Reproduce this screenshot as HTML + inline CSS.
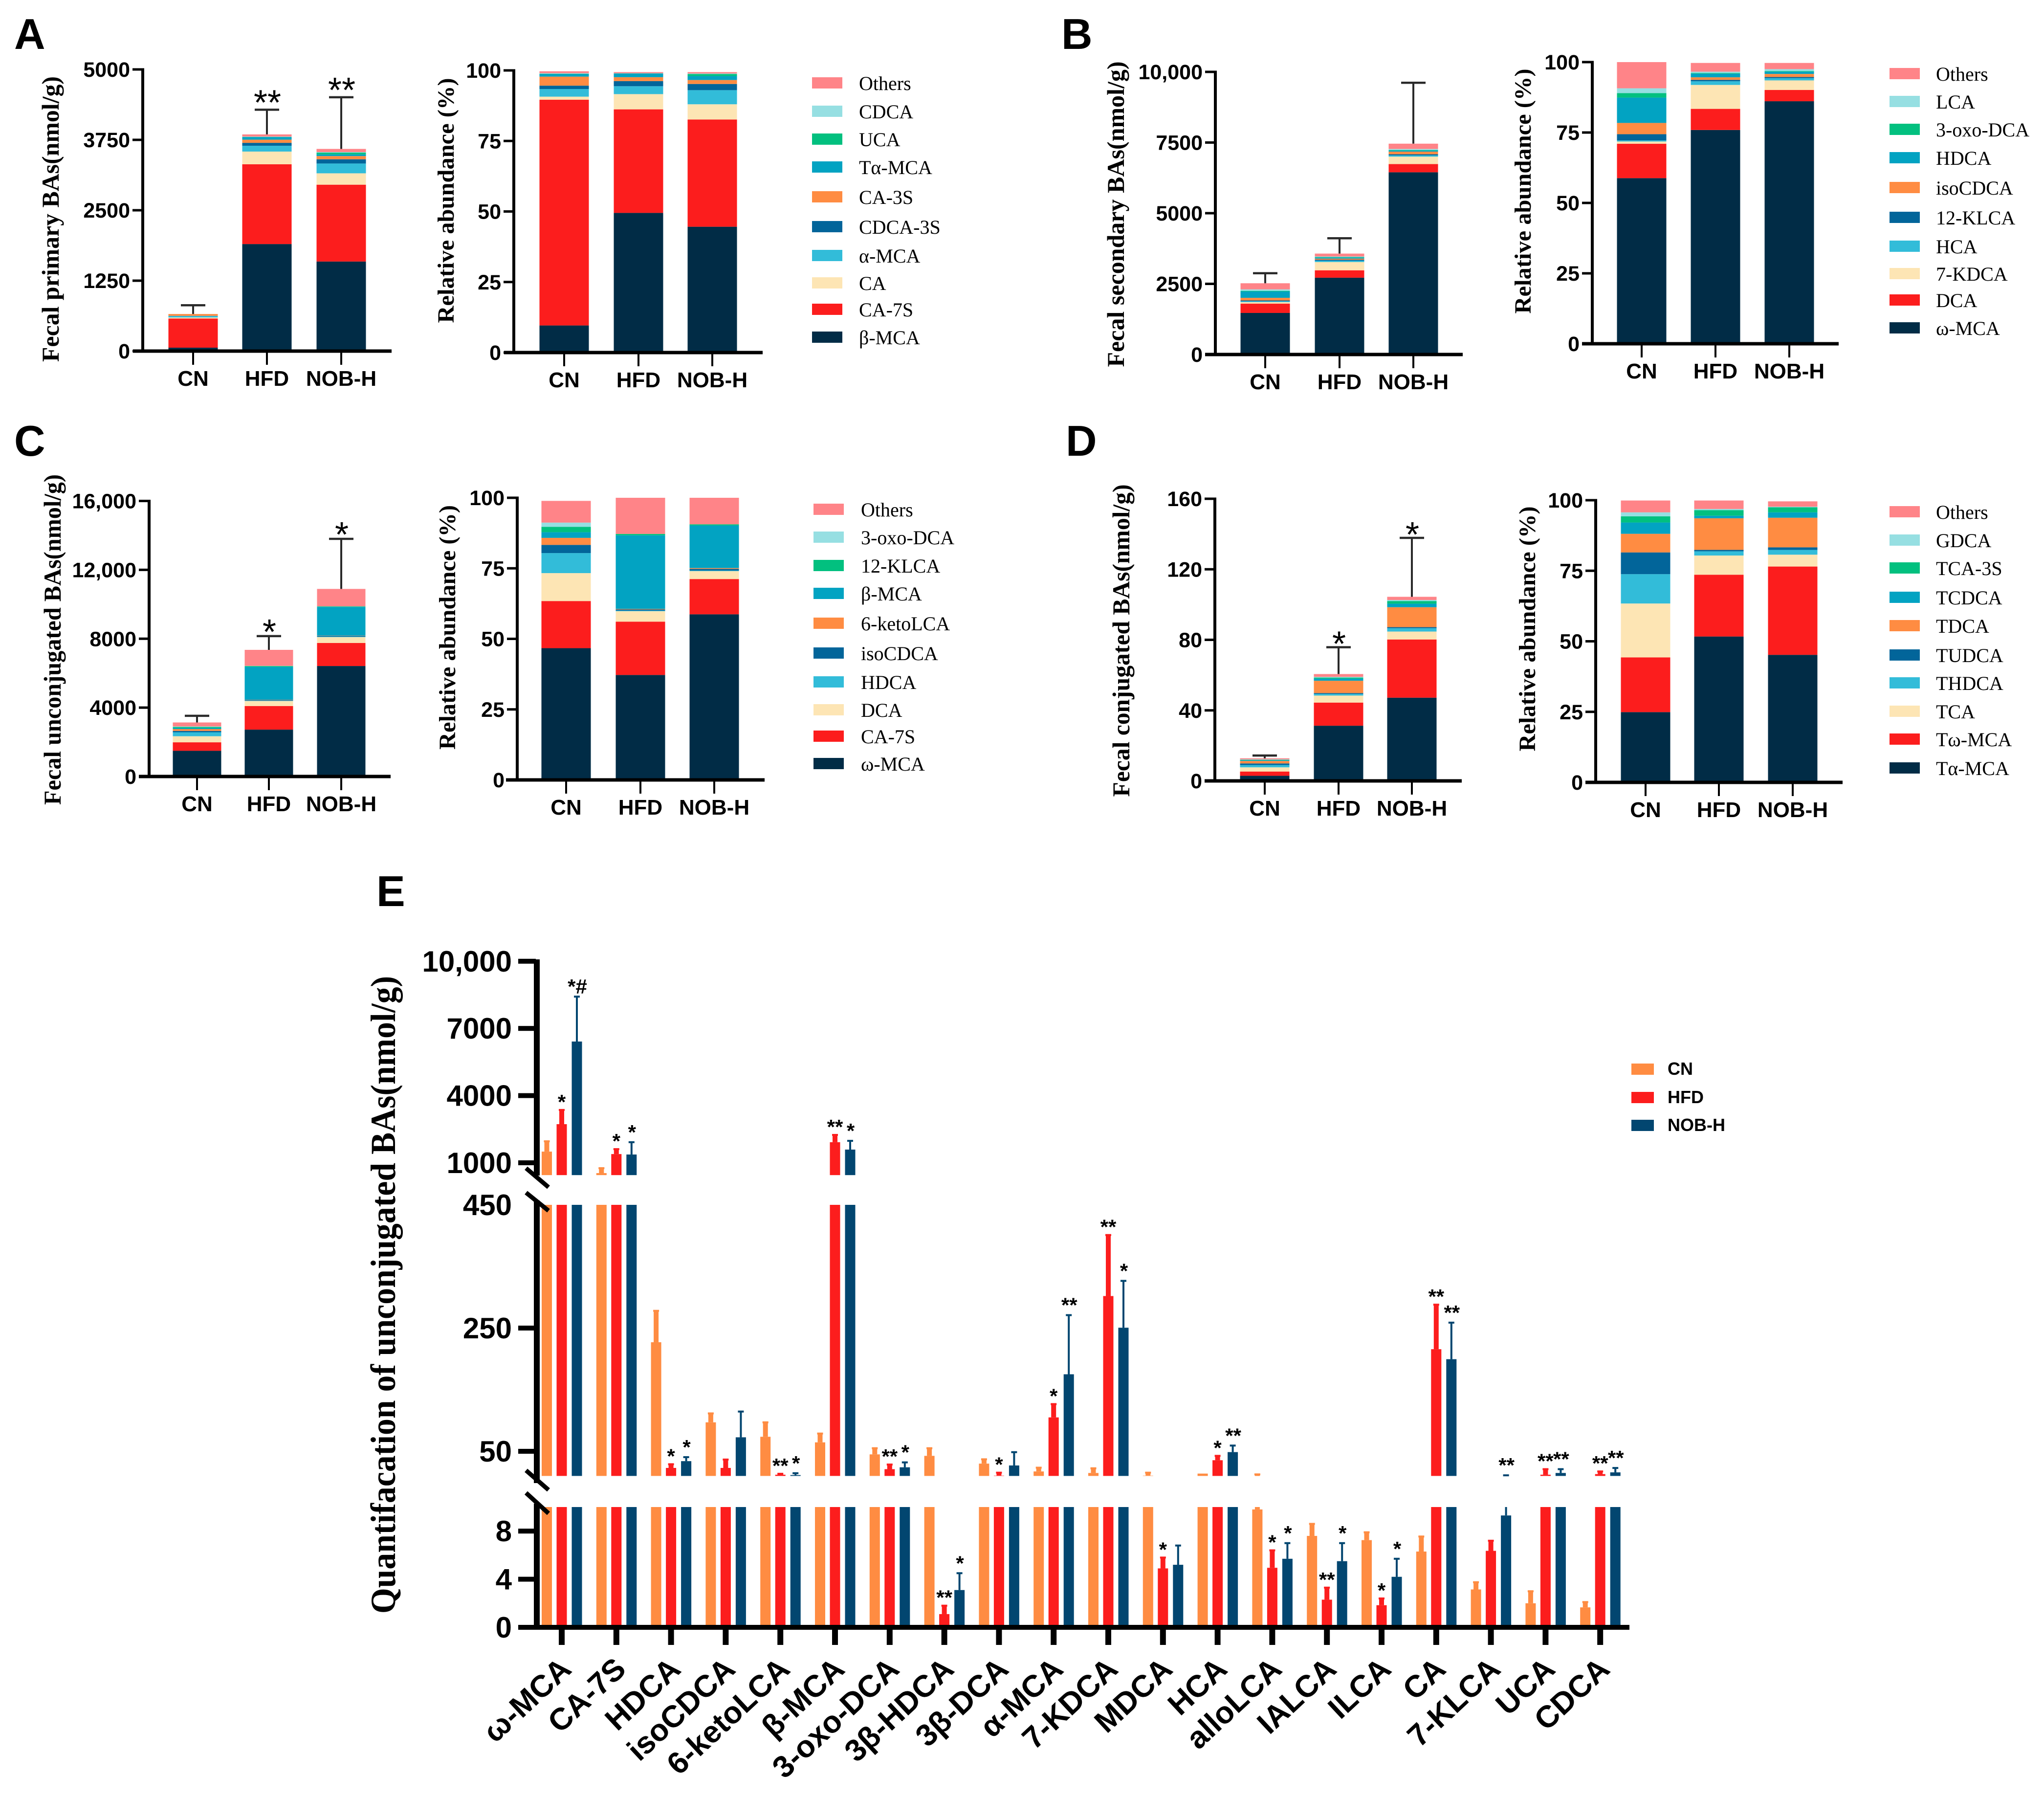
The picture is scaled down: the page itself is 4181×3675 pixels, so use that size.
<!DOCTYPE html>
<html lang="en">
<head>
<meta charset="utf-8">
<title>Fecal bile acids chart</title>
<style>
html,body{margin:0;padding:0;background:#fff;}
svg{display:block;}
.sans{font-family:"Liberation Sans",sans-serif;}
.serif{font-family:"Liberation Serif",serif;}
</style>
</head>
<body>
<svg id="figure" xmlns="http://www.w3.org/2000/svg" width="4181" height="3675" viewBox="0 0 4181 3675">
<rect x="0" y="0" width="4181" height="3675" fill="#ffffff"/>
<text class="sans" font-weight="700" font-size="88" x="29" y="100">A</text>
<text class="sans" font-weight="700" font-size="88" x="2171" y="100">B</text>
<text class="sans" font-weight="700" font-size="88" x="29" y="932">C</text>
<text class="sans" font-weight="700" font-size="88" x="2180" y="932">D</text>
<text class="sans" font-weight="700" font-size="88" x="770" y="1853">E</text>
</svg>
<script>
// ---- shared categories ----
var groupNames = ['CN', 'HFD', 'NOB-H'];
var pctTicks = [0, 25, 50, 75, 100];
var pctTickLabels = ['0', '25', '50', '75', '100'];

// ---- panel A ----
var aLegend = ['β-MCA', 'CA-7S', 'CA', 'α-MCA', 'CDCA-3S', 'CA-3S', 'Tα-MCA', 'UCA', 'CDCA', 'Others'];
var aTicks = [0, 1250, 2500, 3750, 5000];
var aTickLabels = ['0', '1250', '2500', '3750', '5000'];
var aAbsCN = [61, 517, 19, 26, 3, 32, 0, 0, 0, 0];
var aAbsHFD = [1900, 1416, 226, 103, 52, 56, 47, 3, 5, 39];
var aAbsNOB = [1590, 1364, 202, 174, 75, 57, 30, 31, 10, 56];
var aAbsErr = [156, 438, 917];
var aAbsStars = ['', '**', '**'];
var aPctCN = [9.6, 80, 1.1, 2.7, 1.2, 3.2, 0.9, 0.1, 0.2, 0.7];
var aPctHFD = [49.5, 36.7, 5.4, 2.8, 1.8, 1.4, 1.3, 0.05, 0.05, 0.4];
var aPctNOB = [44.6, 38, 5.4, 5, 2.2, 1.4, 1.4, 0.7, 0.2, 0.5];

// ---- panel B ----
var bLegend = ['ω-MCA', 'DCA', '7-KDCA', 'HCA', '12-KLCA', 'isoCDCA', 'HDCA', '3-oxo-DCA', 'LCA', 'Others'];
var bTicks = [0, 2500, 5000, 7500, 10000];
var bTickLabels = ['0', '2500', '5000', '7500', '10,000'];
var bAbsCN = [1471, 328, 56, 29, 28, 94, 225, 19, 55, 216];
var bAbsHFD = [2718, 262, 291, 47, 37, 38, 37, 19, 19, 103];
var bAbsNOB = [6448, 290, 263, 47, 37, 94, 37, 19, 38, 187];
var bAbsErr = [356, 543, 2156];
var bAbsStars = ['', '', ''];
var bPctCN = [58.8, 12.2, 0.8, 0.4, 2.2, 4, 9, 1.6, 1.7, 9.3];
var bPctHFD = [75.9, 7.5, 8.5, 1.3, 0.5, 0.9, 1.3, 0.2, 0.5, 3.1];
var bPctNOB = [86.1, 4, 3.4, 0.8, 0.4, 1.1, 0.8, 0.2, 0.7, 2.2];

// ---- panel C ----
var cLegend = ['ω-MCA', 'CA-7S', 'DCA', 'HDCA', 'isoCDCA', '6-ketoLCA', 'β-MCA', '12-KLCA', '3-oxo-DCA', 'Others'];
var cTicks = [0, 4000, 8000, 12000, 16000];
var cTickLabels = ['0', '4000', '8000', '12,000', '16,000'];
var cAbsCN = [1492, 493, 353, 231, 77, 108, 60, 63, 31, 230];
var cAbsHFD = [2723, 1369, 293, 20, 41, 15, 1908, 46, 10, 929];
var cAbsNOB = [6415, 1339, 338, 30, 47, 15, 1662, 31, 5, 1010];
var cAbsErr = [385, 800, 2908];
var cAbsStars = ['', '*', '*'];
var cPctCN = [46.7, 16.7, 9.9, 7.1, 2.9, 2.5, 2, 1.9, 1.5, 7.7];
var cPctHFD = [37.2, 18.9, 3.7, 0.2, 0.4, 0.2, 26.1, 0.5, 0, 12.8];
var cPctNOB = [58.7, 12.5, 2.8, 0.2, 0.6, 0.3, 15.1, 0.4, 0, 9.4];

// ---- panel D ----
var dLegend = ['Tα-MCA', 'Tω-MCA', 'TCA', 'THDCA', 'TUDCA', 'TDCA', 'TCDCA', 'TCA-3S', 'GDCA', 'Others'];
var dTicks = [0, 40, 80, 120, 160];
var dTickLabels = ['0', '40', '80', '120', '160'];
var dAbsCN = [2.9, 2.4, 2.4, 1.3, 0.9, 1.4, 0.4, 0.3, 0.2, 0.6];
var dAbsHFD = [31.3, 13.1, 4, 0.9, 0.5, 7, 1.2, 0.6, 0.4, 1.6];
var dAbsNOB = [47.2, 33, 4.5, 1.9, 0.6, 11.3, 2, 1.5, 0.6, 1.8];
var dAbsErr = [1.6, 15.2, 33.4];
var dAbsStars = ['', '*', '*'];
var dPctCN = [24.9, 19.4, 19.1, 10.4, 7.7, 6.6, 4, 2.2, 1.4, 4.2];
var dPctHFD = [51.7, 21.9, 6.8, 1.5, 0.5, 11.2, 0.9, 2, 0.4, 3];
var dPctNOB = [45.2, 31.3, 4.2, 1.7, 0.9, 10.5, 1.9, 1.8, 0.2, 1.9];

// ---- panel E ----
var eCategories = ['ω-MCA', 'CA-7S', 'HDCA', 'isoCDCA', '6-ketoLCA', 'β-MCA', '3-oxo-DCA', '3β-HDCA', '3β-DCA', 'α-MCA', '7-KDCA', 'MDCA', 'HCA', 'alloLCA', 'IALCA', 'ILCA', 'CA', '7-KLCA', 'UCA', 'CDCA'];
var eCN = [1500, 540, 227, 97, 73.6, 64.5, 45, 42.6, 30, 17.3, 14.8, 10.5, 13.8, 9.8, 7.6, 7.25, 6.3, 3.15, 2, 1.66];
var eCNTop = [1960, 760, 278, 111.5, 97, 78.8, 55, 55, 37, 23.4, 22.4, 15.3, 13.8, 12.5, 8.6, 7.9, 7.55, 3.75, 3, 2.1];
var eHFD = [2725, 1390, 23, 23, 12, 1920, 21, 1.1, 10.5, 105, 302, 4.9, 35.5, 4.95, 2.3, 1.84, 215.7, 6.36, 12, 13];
var eHFDTop = [3360, 1610, 29, 36.6, 13.5, 2245, 28.5, 1.8, 15.3, 126.6, 401, 5.8, 42.6, 6.4, 3.3, 2.4, 288, 7.2, 21, 17.3];
var eNOB = [6415, 1370, 34, 72.7, 11.4, 1590, 24, 3.1, 27, 175, 250.6, 5.2, 48.7, 5.7, 5.5, 4.2, 199.5, 9.3, 14.8, 15.8];
var eNOBTop = [8420, 1920, 40.5, 114.5, 14.4, 1980, 32, 4.5, 48.6, 271, 326.6, 6.8, 59.3, 7, 7, 5.7, 258.8, 11, 21, 22.9];
var eHFDStars = ['*', '*', '*', '', '**', '**', '**', '**', '*', '*', '**', '*', '*', '*', '**', '*', '**', '', '**', '**'];
var eNOBStars = ['*#', '*', '*', '', '*', '*', '*', '*', '', '**', '*', '', '**', '*', '*', '*', '**', '**', '**', '**'];
var eLowTicks = [0, 4, 8];
var eMidTicks = [50, 250];
var eMidLabelOnly = [450];
var eTopTicks = [1000, 4000, 7000, 10000];
var eTopTickLabels = ['1000', '4000', '7000', '10,000'];

var stackColors = ['#012c46', '#fc1d1d', '#fde5b4', '#32bcd9', '#02659a', '#ff8c42', '#02a3c2', '#02c07f', '#96dfe2', '#ff8488'];
var eColors = ['#ff8c42', '#fc1d1d', '#024670'];

var NS = 'http://www.w3.org/2000/svg';
var root = document.getElementById('figure');

function make(tag, attrs, parent) {
  var el = document.createElementNS(NS, tag);
  for (var k in attrs) { el.setAttribute(k, attrs[k]); }
  (parent || root).appendChild(el);
  return el;
}
function slug(s) {
  return String(s).toLowerCase().replace(/α/g, 'alpha').replace(/β/g, 'beta').replace(/ω/g, 'omega').replace(/[^a-z0-9]+/g, '-');
}
function label(parent, name, str, x, y, size, family, weight, anchor, extra) {
  var attrs = { x: x, y: y, 'font-size': size, 'font-weight': weight, 'text-anchor': anchor, 'class': family, fill: '#000' };
  for (var k in (extra || {})) { attrs[k] = extra[k]; }
  var t = make('text', attrs, parent);
  t.textContent = str;
  
  
  return t;
}
function box(parent, name, x, y, w, h, fill) {
  var r = make('rect', { x: x, y: y, width: w, height: Math.max(h, 0), fill: fill }, parent);
  
  
  return r;
}

function stackedChart(o) {
  var g = make('g', {});
  
  
  var yScale = function (v) { return o.y0 - v / o.max * (o.y0 - o.yTop); };

  o.series.forEach(function (vals, gi) {
    var cx = o.centers[gi];
    var sum = 0;
    vals.forEach(function (v, si) {
      var top = yScale(sum + v);
      var bottom = yScale(sum);
      box(g, 'bar-' + slug(groupNames[gi]) + '-' + slug(o.legendNames[si]), cx - o.barW / 2, top, o.barW, bottom - top, stackColors[si]);
      sum += v;
    });
    if (o.errors) {
      var errTop = yScale(sum + o.errors[gi]);
      var line = make('line', { x1: cx, x2: cx, y1: yScale(sum), y2: errTop, stroke: '#2a2a2a', 'stroke-width': 4 }, g);
      
      
      var cap = make('line', { x1: cx - 25, x2: cx + 25, y1: errTop, y2: errTop, stroke: '#2a2a2a', 'stroke-width': 4.5 }, g);
      
      
      if (o.stars && o.stars[gi]) {
        label(g, 'significance-' + slug(groupNames[gi]), o.stars[gi], cx + 1, errTop - o.starGap + 41, 72, 'sans', 400, 'middle');
      }
    }
  });

  box(g, 'y-axis', o.axisX - 3, o.yTop - 2.5, 6, o.y0 - o.yTop + 5, '#000');
  box(g, 'x-axis', o.xStart, o.y0 - 3.5, o.xEnd - o.xStart, 7, '#000');
  o.ticks.forEach(function (tv, ti) {
    var ty = yScale(tv);
    box(g, 'y-tick-' + tv, o.axisX - 21, ty - 2.5, 21, 5, '#000');
    label(g, 'y-tick-label-' + tv, o.tickLabels[ti], o.axisX - 26, ty + 15, 43, 'sans', 700, 'end');
  });
  groupNames.forEach(function (name, gi) {
    box(g, 'x-tick-' + slug(name), o.centers[gi] - 2, o.y0, 4, 28, '#000');
    label(g, 'x-tick-label-' + slug(name), name, o.centers[gi], o.y0 + 71, 44, 'sans', 700, 'middle');
  });
  var tb = label(g, o.name + '-y-axis-title', o.title, 0, 0, o.titleSize, 'serif', 700, 'middle',
    { transform: 'translate(' + o.titleX + ',' + o.titleY + ') rotate(-90)', textLength: o.titleLen, lengthAdjust: 'spacingAndGlyphs' });
  return tb;
}

function legend(name, names, swatchX, textX, rows) {
  var g = make('g', {});
  
  
  names.forEach(function (n, i) {
    var idx = i;
    var y = rows[names.length - 1 - i];
    box(g, 'legend-swatch-' + slug(n), swatchX, y - 12, 62, 23, stackColors[idx]);
    label(g, 'legend-entry-' + slug(n), n, textX, y + 14, 40, 'serif', 400, 'start');
  });
}

// Panel A
stackedChart({ name: 'panel-a-absolute', series: [aAbsCN, aAbsHFD, aAbsNOB], errors: aAbsErr, stars: aAbsStars, starGap: 31, legendNames: aLegend,
  max: 5000, y0: 718, yTop: 142, axisX: 292, xStart: 272, xEnd: 801, centers: [395, 546, 698], barW: 101, ticks: aTicks, tickLabels: aTickLabels,
  title: 'Fecal primary BAs(nmol/g)', titleSize: 50, titleX: 120, titleY: 448, titleLen: 584 });
stackedChart({ name: 'panel-a-relative', series: [aPctCN, aPctHFD, aPctNOB], legendNames: aLegend,
  max: 100, y0: 721, yTop: 144, axisX: 1051, xStart: 1031, xEnd: 1560, centers: [1154, 1306, 1457], barW: 101, ticks: pctTicks, tickLabels: pctTickLabels,
  title: 'Relative abundance (%)', titleSize: 48, titleX: 928, titleY: 410, titleLen: 501 });
legend('panel-a-legend', aLegend, 1661, 1757, [170, 228, 285, 342, 403, 464, 523, 579, 633, 690]);

// Panel B
stackedChart({ name: 'panel-b-absolute', series: [bAbsCN, bAbsHFD, bAbsNOB], errors: bAbsErr, stars: bAbsStars, starGap: 30, legendNames: bLegend,
  max: 10000, y0: 725, yTop: 147, axisX: 2486, xStart: 2465, xEnd: 2992, centers: [2588, 2740, 2891], barW: 101, ticks: bTicks, tickLabels: bTickLabels,
  title: 'Fecal secondary BAs(nmol/g)', titleSize: 50, titleX: 2299, titleY: 438, titleLen: 625 });
stackedChart({ name: 'panel-b-relative', series: [bPctCN, bPctHFD, bPctNOB], legendNames: bLegend,
  max: 100, y0: 703, yTop: 127, axisX: 3257, xStart: 3236, xEnd: 3761, centers: [3358, 3509, 3660], barW: 101, ticks: pctTicks, tickLabels: pctTickLabels,
  title: 'Relative abundance (%)', titleSize: 48, titleX: 3131, titleY: 391, titleLen: 501 });
legend('panel-b-legend', bLegend, 3865, 3960, [151, 208, 265, 323, 384, 445, 504, 560, 614, 671]);

// Panel C
stackedChart({ name: 'panel-c-absolute', series: [cAbsCN, cAbsHFD, cAbsNOB], errors: cAbsErr, stars: cAbsStars, starGap: 25, legendNames: cLegend,
  max: 16000, y0: 1588, yTop: 1024.5, axisX: 305, xStart: 284, xEnd: 799, centers: [403, 550, 698], barW: 99, ticks: cTicks, tickLabels: cTickLabels,
  title: 'Fecal unconjugated BAs(nmol/g)', titleSize: 50, titleX: 124, titleY: 1308, titleLen: 676 });
stackedChart({ name: 'panel-c-relative', series: [cPctCN, cPctHFD, cPctNOB], legendNames: cLegend,
  max: 100, y0: 1595, yTop: 1018, axisX: 1058, xStart: 1035, xEnd: 1564, centers: [1158, 1310, 1461], barW: 101, ticks: pctTicks, tickLabels: pctTickLabels,
  title: 'Relative abundance (%)', titleSize: 48, titleX: 931, titleY: 1283, titleLen: 500 });
legend('panel-c-legend', cLegend, 1664, 1761, [1042, 1099, 1157, 1214, 1275, 1336, 1395, 1452, 1506, 1562]);

// Panel D
stackedChart({ name: 'panel-d-absolute', series: [dAbsCN, dAbsHFD, dAbsNOB], errors: dAbsErr, stars: dAbsStars, starGap: 23, legendNames: dLegend,
  max: 160, y0: 1597, yTop: 1020, axisX: 2485, xStart: 2464, xEnd: 2990, centers: [2587, 2738, 2888], barW: 101, ticks: dTicks, tickLabels: dTickLabels,
  title: 'Fecal conjugated BAs(nmol/g)', titleSize: 50, titleX: 2310, titleY: 1310, titleLen: 639 });
stackedChart({ name: 'panel-d-relative', series: [dPctCN, dPctHFD, dPctNOB], legendNames: dLegend,
  max: 100, y0: 1600, yTop: 1023, axisX: 3264, xStart: 3243, xEnd: 3769, centers: [3366, 3516, 3667], barW: 101, ticks: pctTicks, tickLabels: pctTickLabels,
  title: 'Relative abundance (%)', titleSize: 48, titleX: 3140, titleY: 1286, titleLen: 501 });
legend('panel-d-legend', dLegend, 3865, 3960, [1047, 1105, 1162, 1222, 1280, 1340, 1397, 1455, 1512, 1571]);

// Panel E: three-segment broken axis
function yLow(v) { return 3328 - v * 24.6; }
function yMid(v) { return 2464 + (450 - v) * 1.26; }
function yUp(v) { return 2378 - (v - 1000) * 0.0458; }
function xCenter(i) { return 1149 + i * 111.8; }

(function () {
  var g = make('g', {});
  
  
  var seriesVals = [eCN, eHFD, eNOB];
  var seriesTops = [eCNTop, eHFDTop, eNOBTop];
  var seriesNames = ['cn', 'hfd', 'nob-h'];
  var offs = [-30.5, 0, 31];
  var errW = [10, 10, 4];

  function span(name, x, w, y1, y2, fill) { box(g, name, x, y2, w, y1 - y2, fill); }
  function yFor(v) { return v <= 10 ? yLow(v) : (v <= 450 ? yMid(v) : yUp(v)); }

  eCategories.forEach(function (cat, i) {
    seriesVals.forEach(function (vals, s) {
      var v = vals[i];
      var t = seriesTops[s][i];
      var cx = xCenter(i) + offs[s];
      var col = eColors[s];
      var base = 'bar-' + slug(cat) + '-' + seriesNames[s];
      span(base + '-lower', cx - 10.5, 21, yLow(0), yLow(Math.min(v, 10)), col);
      if (v > 10) { span(base + '-middle', cx - 10.5, 21, yMid(10), yMid(Math.min(v, 450)), col); }
      if (v > 450) { span(base + '-upper', cx - 10.5, 21, yUp(450), yUp(v), col); }
      var eb = 'error-bar-' + slug(cat) + '-' + seriesNames[s];
      var w = errW[s];
      if (t > v) {
        if (v < 10) { span(eb + '-lower', cx - w / 2, w, yLow(v), yLow(Math.min(t, 10)), col); }
        if (t > 10 && v < 450) { span(eb + '-middle', cx - w / 2, w, yMid(Math.max(v, 10)), yMid(Math.min(t, 450)), col); }
        if (t > 450) { span(eb + '-upper', cx - w / 2, w, yUp(Math.max(v, 450)), yUp(t), col); }
        box(g, 'error-cap-' + slug(cat) + '-' + seriesNames[s], cx - 6, yFor(t) - 2, 12, 4, col);
      }
    });
    if (eHFDStars[i]) {
      label(g, 'significance-' + slug(cat) + '-hfd', eHFDStars[i], xCenter(i) + offs[1], yFor(eHFDTop[i]) - 26 + 24, 42, 'sans', 700, 'middle');
    }
    if (eNOBStars[i]) {
      label(g, 'significance-' + slug(cat) + '-nob-h', eNOBStars[i], xCenter(i) + offs[2] + 1, yFor(eNOBTop[i]) - 30 + 24, 42, 'sans', 700, 'middle');
    }
    box(g, 'x-tick-' + slug(cat), xCenter(i) - 6, 3328, 12, 36, '#000');
    var ex = xCenter(i) + 23;
    label(g, 'x-tick-label-' + slug(cat), cat, 0, 0, 63, 'sans', 700, 'end', { transform: 'translate(' + ex + ',3418) rotate(-43)' });
  });

  box(g, 'y-axis-upper', 1092, 1962, 12, 442, '#000');
  box(g, 'y-axis-middle', 1092, 2455, 12, 578, '#000');
  box(g, 'y-axis-lower', 1092, 3075, 12, 258, '#000');
  box(g, 'x-axis', 1060, 3323, 2273, 10, '#000');

  function tick(name, y, text) {
    box(g, 'y-tick-' + name, 1060, y - 5, 36, 10, '#000');
    label(g, 'y-tick-label-' + name, text, 1047, y + 21, 60, 'sans', 700, 'end');
  }
  eLowTicks.forEach(function (v) { tick(v, yLow(v), String(v)); });
  eMidTicks.forEach(function (v) { tick(v, yMid(v), String(v)); });
  eMidLabelOnly.forEach(function (v) { label(g, 'y-tick-label-' + v, String(v), 1047, yMid(v) + 21, 60, 'sans', 700, 'end'); });
  eTopTicks.forEach(function (v, i) { tick(v, yUp(v), eTopTickLabels[i]); });

  function slash(name, y1, y2) {
    var l = make('line', { x1: 1076, y1: y1, x2: 1122, y2: y2, stroke: '#000', 'stroke-width': 9 }, g);
    
    
  }
  slash('axis-break-upper-top', 2389, 2428);
  slash('axis-break-upper-bottom', 2439, 2476);
  slash('axis-break-lower-top', 3007, 3047);
  slash('axis-break-lower-bottom', 3053, 3095);

  label(g, 'panel-e-y-axis-title', 'Quantifacation of unconjugated BAs(nmol/g)', 0, 0, 72, 'serif', 700, 'middle',
    { transform: 'translate(808,2648) rotate(-90)', textLength: 1304, lengthAdjust: 'spacingAndGlyphs' });

  var lg = make('g', {}, g);
  
  
  var legendRows = [2198, 2256, 2313];
  groupNames.forEach(function (n, i) {
    box(lg, 'legend-swatch-' + slug(n), 3337, legendRows[i] - 23, 46, 23, eColors[i]);
    label(lg, 'legend-entry-' + slug(n), n, 3411, legendRows[i], 36, 'sans', 700, 'start');
  });
})();
</script>
</body>
</html>
